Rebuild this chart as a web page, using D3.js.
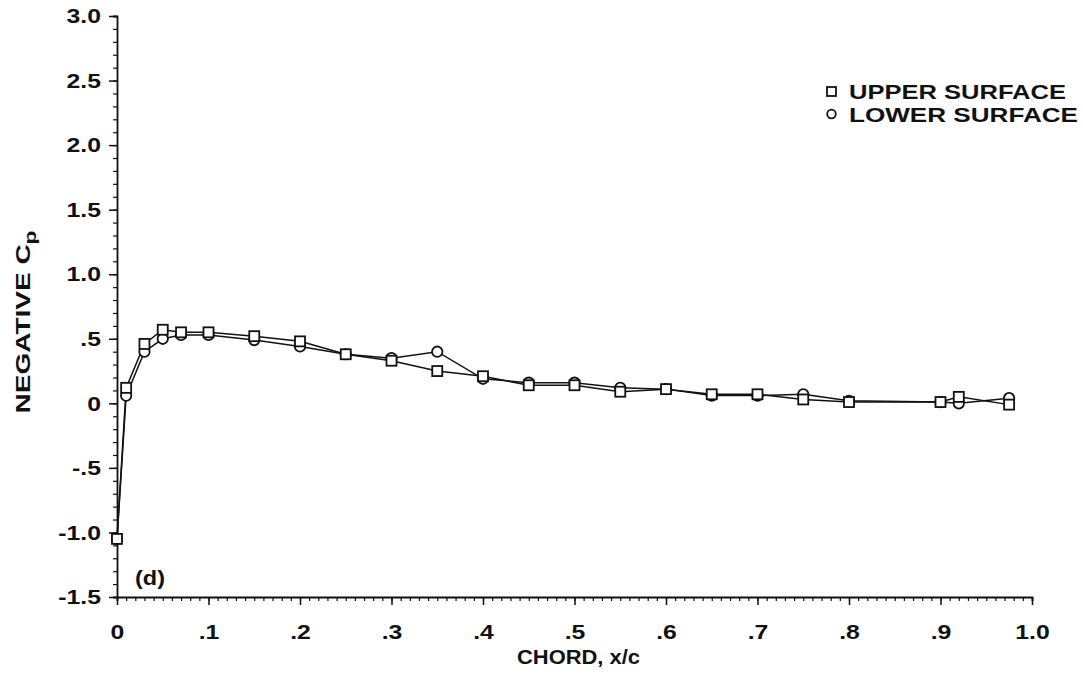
<!DOCTYPE html>
<html><head><meta charset="utf-8">
<script src="https://cdn.jsdelivr.net/npm/d3@7"></script>
<style>body{margin:0;background:#fff}svg{display:block}text{font-family:"Liberation Sans",Arial,sans-serif;font-weight:bold;fill:#111}</style>
</head><body><svg id="c" width="1083" height="684"></svg>
<script>
const chordX = [0, 0.01, 0.03, 0.05, 0.07, 0.1, 0.15, 0.2, 0.25, 0.3, 0.35, 0.4, 0.45, 0.5, 0.55, 0.6, 0.65, 0.7, 0.75, 0.8, 0.9, 0.92, 0.975];
const upperCp = [-1.05, 0.12, 0.46, 0.57, 0.55, 0.55, 0.52, 0.48, 0.38, 0.33, 0.25, 0.21, 0.14, 0.14, 0.09, 0.11, 0.07, 0.07, 0.03, 0.01, 0.01, 0.05, -0.01];
const lowerCp = [-1.05, 0.06, 0.40, 0.50, 0.53, 0.53, 0.49, 0.44, 0.38, 0.35, 0.40, 0.19, 0.16, 0.16, 0.12, 0.11, 0.06, 0.06, 0.07, 0.02, 0.01, 0.00, 0.04];
const xTickVals = [0, 0.1, 0.2, 0.3, 0.4, 0.5, 0.6, 0.7, 0.8, 0.9, 1.0];
const xTickLabels = ["0", ".1", ".2", ".3", ".4", ".5", ".6", ".7", ".8", ".9", "1.0"];
const yTickVals = [3.0, 2.5, 2.0, 1.5, 1.0, 0.5, 0, -0.5, -1.0, -1.5];
const yTickLabels = ["3.0", "2.5", "2.0", "1.5", "1.0", ".5", "0", "-.5", "-1.0", "-1.5"];
const legendLabels = ["UPPER SURFACE", "LOWER SURFACE"];

const svg = d3.select("#c");
const x = d3.scaleLinear().domain([0, 1]).range([117, 1032]);
const y = d3.scaleLinear().domain([-1.5, 3.0]).range([597, 16]);
const FONT = "'Liberation Sans',Arial,sans-serif";

function stretch(sel, factor) {
  sel.each(function () {
    const w = this.getComputedTextLength();
    d3.select(this).attr("textLength", w * factor).attr("lengthAdjust", "spacingAndGlyphs");
  });
}
function styleLabels(g) {
  const t = g.selectAll(".tick text").attr("font-size", 21).attr("fill", "#111")
    .style("font-family", FONT).style("font-weight", "bold");
  stretch(t, 1.18);
}

// x axis
const xMinor = d3.range(0, 101).map(i => i / 100);
svg.append("g").attr("transform", "translate(0,597)")
  .call(d3.axisBottom(x).tickValues(xMinor).tickSize(4).tickFormat(""))
  .call(g => g.select(".domain").attr("stroke", "#111").attr("stroke-width", 1.8))
  .call(g => g.selectAll(".tick line").attr("stroke", "#111").attr("stroke-width", 1.2));
svg.append("g").attr("transform", "translate(0,597)")
  .call(d3.axisBottom(x).tickValues(xTickVals).tickSize(8).tickPadding(19).tickFormat((d, i) => xTickLabels[i]))
  .call(g => g.select(".domain").remove())
  .call(g => g.selectAll(".tick line").attr("stroke", "#111").attr("stroke-width", 1.5))
  .call(styleLabels);

// y axis
const yMinor = d3.range(-15, 31).map(i => i / 10);
svg.append("g").attr("transform", "translate(117,0)")
  .call(d3.axisLeft(y).tickValues(yMinor).tickSize(4).tickFormat(""))
  .call(g => g.select(".domain").attr("stroke", "#111").attr("stroke-width", 1.8))
  .call(g => g.selectAll(".tick line").attr("stroke", "#111").attr("stroke-width", 1.2));
svg.append("g").attr("transform", "translate(117,0)")
  .call(d3.axisLeft(y).tickValues(yTickVals).tickSize(8).tickPadding(8).tickFormat((d, i) => yTickLabels[i]))
  .call(g => g.select(".domain").remove())
  .call(g => g.selectAll(".tick line").attr("stroke", "#111").attr("stroke-width", 1.5))
  .call(styleLabels);

// lines
const line = d3.line().x(d => x(d[0])).y(d => y(d[1]));
const up = chordX.map((c, i) => [c, upperCp[i]]);
const lo = chordX.map((c, i) => [c, lowerCp[i]]);
svg.append("path").attr("d", line(up)).attr("fill", "none").attr("stroke", "#111").attr("stroke-width", 1.5);
svg.append("path").attr("d", line(lo)).attr("fill", "none").attr("stroke", "#111").attr("stroke-width", 1.5);

// markers
svg.append("g").selectAll("circle").data(lo).join("circle")
  .attr("cx", d => x(d[0])).attr("cy", d => y(d[1])).attr("r", 5.2)
  .attr("fill", "#fff").attr("stroke", "#111").attr("stroke-width", 1.8);
svg.append("g").selectAll("rect").data(up).join("rect")
  .attr("x", d => x(d[0]) - 5).attr("y", d => y(d[1]) - 5).attr("width", 10).attr("height", 10)
  .attr("fill", "#fff").attr("stroke", "#111").attr("stroke-width", 1.8);

// legend
const lg = svg.append("g");
lg.append("rect").attr("x", 827).attr("y", 87).attr("width", 9).attr("height", 9)
  .attr("fill", "#fff").attr("stroke", "#111").attr("stroke-width", 1.8);
lg.append("circle").attr("cx", 831.5).attr("cy", 114).attr("r", 4.3)
  .attr("fill", "#fff").attr("stroke", "#111").attr("stroke-width", 1.8);
const legendLen = [217, 229];
lg.selectAll("text").data(legendLabels).join("text")
  .attr("x", 849).attr("y", (d, i) => 99 + i * 23).attr("font-size", 20)
  .attr("textLength", (d, i) => legendLen[i]).attr("lengthAdjust", "spacingAndGlyphs").text(d => d);

// axis titles
svg.append("text").attr("x", 517).attr("y", 664)
  .attr("font-size", 20).attr("textLength", 123).attr("lengthAdjust", "spacingAndGlyphs").text("CHORD, x/c");
const yt = svg.append("text").attr("transform", "translate(30,322) rotate(-90)")
  .attr("text-anchor", "middle").attr("font-size", 21)
  .attr("textLength", 183).attr("lengthAdjust", "spacingAndGlyphs");
yt.append("tspan").text("NEGATIVE C");
yt.append("tspan").attr("dy", 6).attr("font-size", 17).text("p");

svg.append("text").attr("x", 135).attr("y", 585).attr("font-size", 21)
  .attr("textLength", 30).attr("lengthAdjust", "spacingAndGlyphs").text("(d)");
</script></body></html>
